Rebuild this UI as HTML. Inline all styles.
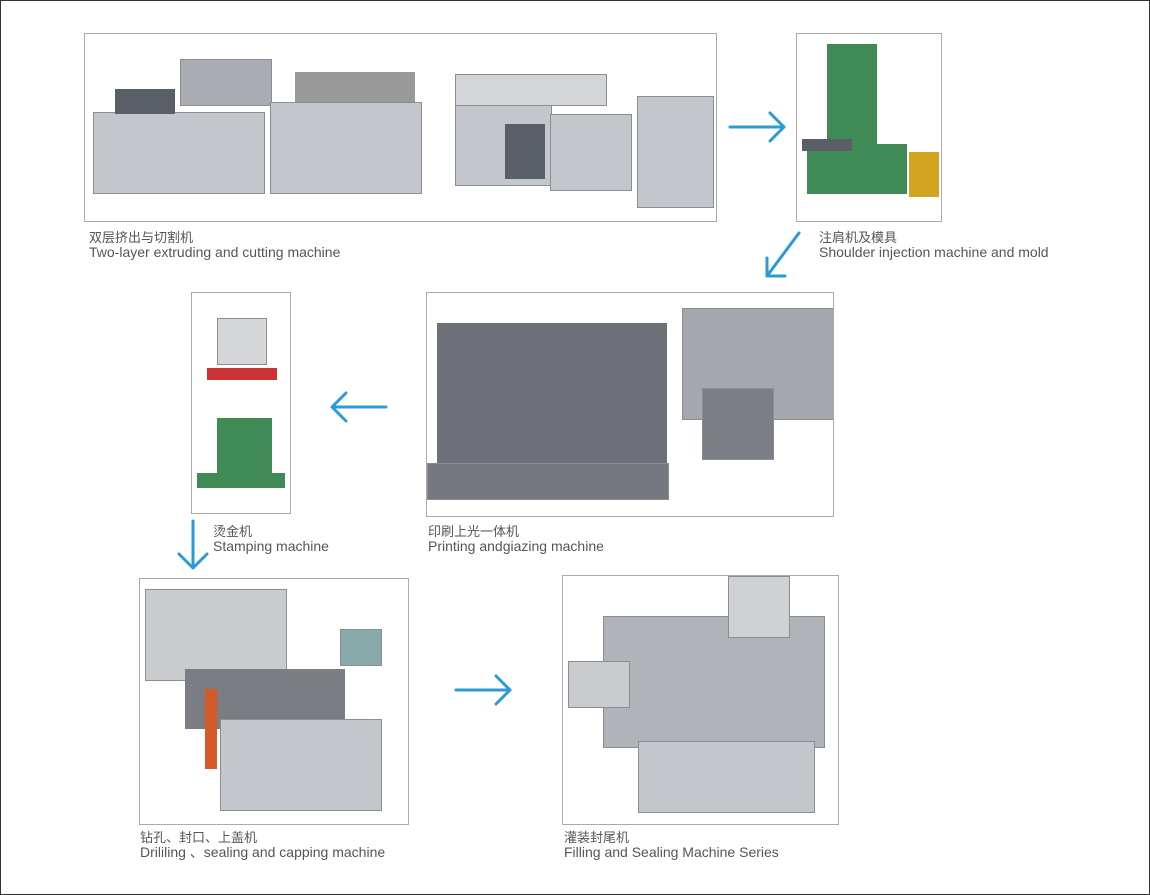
<!DOCTYPE html>
<html><head><meta charset="utf-8"><style>
body{margin:0;width:1150px;height:895px;background:#fff;position:relative;overflow:hidden;font-family:"Liberation Sans","Noto Sans CJK SC",sans-serif}
.frame{position:absolute;left:0;top:0;width:1148px;height:893px;border:1px solid #333}
.box{position:absolute;border:1px solid #aaa;background:#fff;overflow:hidden}
.lbl{position:absolute;font-size:14px;line-height:15px;color:#555;white-space:nowrap}
.lbl span{font-size:13px}
.m{position:absolute;background:#c3c6ca;border:1px solid #8a8d92}
.d{position:absolute;background:#5a5e66}
.g{position:absolute;background:#3f8a55}
svg{position:absolute;left:0;top:0}
</style></head><body>
<div class="frame"></div>

<div class="box" style="left:84px;top:33px;width:631px;height:187px">
 <div class="m" style="left:8px;top:78px;width:170px;height:80px"></div>
 <div class="d" style="left:30px;top:55px;width:60px;height:25px"></div>
 <div class="m" style="left:95px;top:25px;width:90px;height:45px;background:#a9adb2"></div>
 <div class="m" style="left:185px;top:68px;width:150px;height:90px"></div>
 <div class="d" style="left:210px;top:38px;width:120px;height:30px;background:#999"></div>
 <div class="m" style="left:370px;top:70px;width:95px;height:80px"></div>
 <div class="d" style="left:420px;top:90px;width:40px;height:55px"></div>
 <div class="m" style="left:465px;top:80px;width:80px;height:75px"></div>
 <div class="m" style="left:370px;top:40px;width:150px;height:30px;background:#d3d5d8"></div>
 <div class="m" style="left:552px;top:62px;width:75px;height:110px"></div>
</div>
<div class="lbl" style="left:89px;top:230px"><span>双层挤出与切割机</span><br>Two-layer extruding and cutting machine</div>

<div class="box" style="left:796px;top:33px;width:144px;height:187px">
 <div class="g" style="left:30px;top:10px;width:50px;height:100px"></div>
 <div class="g" style="left:10px;top:110px;width:100px;height:50px"></div>
 <div class="d" style="left:5px;top:105px;width:50px;height:12px"></div>
 <div style="position:absolute;left:112px;top:118px;width:30px;height:45px;background:#d2a520"></div>
</div>
<div class="lbl" style="left:819px;top:230px"><span>注肩机及模具</span><br>Shoulder injection machine and mold</div>

<div class="box" style="left:426px;top:292px;width:406px;height:223px">
 <div class="d" style="left:10px;top:30px;width:230px;height:150px;background:#6d7078"></div>
 <div class="m" style="left:0px;top:170px;width:240px;height:35px;background:#75787e"></div>
 <div class="m" style="left:255px;top:15px;width:150px;height:110px;background:#a4a8ad"></div>
 <div class="m" style="left:275px;top:95px;width:70px;height:70px;background:#7b7f85"></div>
</div>
<div class="lbl" style="left:428px;top:524px"><span>印刷上光一体机</span><br>Printing andgiazing machine</div>

<div class="box" style="left:191px;top:292px;width:98px;height:220px">
 <div class="m" style="left:25px;top:25px;width:48px;height:45px;background:#d5d6d8"></div>
 <div style="position:absolute;left:15px;top:75px;width:70px;height:12px;background:#c33"></div>
 <div class="g" style="left:25px;top:125px;width:55px;height:65px"></div>
 <div class="g" style="left:5px;top:180px;width:88px;height:15px"></div>
</div>
<div class="lbl" style="left:213px;top:524px"><span>烫金机</span><br>Stamping machine</div>

<div class="box" style="left:139px;top:578px;width:268px;height:245px">
 <div class="m" style="left:5px;top:10px;width:140px;height:90px;background:#c9cbce"></div>
 <div class="d" style="left:45px;top:90px;width:160px;height:60px;background:#7a7d84"></div>
 <div class="m" style="left:80px;top:140px;width:160px;height:90px"></div>
 <div style="position:absolute;left:65px;top:110px;width:12px;height:80px;background:#d55a2a"></div>
 <div class="m" style="left:200px;top:50px;width:40px;height:35px;background:#8aa"></div>
</div>
<div class="lbl" style="left:140px;top:830px"><span>钻孔、封口、上盖机</span><br>Drililing 、sealing and capping machine</div>

<div class="box" style="left:562px;top:575px;width:275px;height:248px">
 <div class="m" style="left:40px;top:40px;width:220px;height:130px;background:#b0b3b8"></div>
 <div class="m" style="left:165px;top:0px;width:60px;height:60px;background:#cfd1d4"></div>
 <div class="m" style="left:75px;top:165px;width:175px;height:70px"></div>
 <div class="m" style="left:5px;top:85px;width:60px;height:45px;background:#c9cbce"></div>
</div>
<div class="lbl" style="left:564px;top:830px"><span>灌装封尾机</span><br>Filling and Sealing Machine Series</div>

<svg width="1150" height="895">
<g stroke="#2a9ad8" stroke-width="3" fill="none" stroke-linecap="round" stroke-linejoin="round">
 <path d="M730 127H784M770 113L784 127L770 141"/>
 <path d="M799 233L767 276M767 258L767 276L785 276"/>
 <path d="M386 407H332M346 393L332 407L346 421"/>
 <path d="M193 521V568M179 554L193 568L207 554"/>
 <path d="M456 690H510M496 676L510 690L496 704"/>
</g>
</svg>
</body></html>
